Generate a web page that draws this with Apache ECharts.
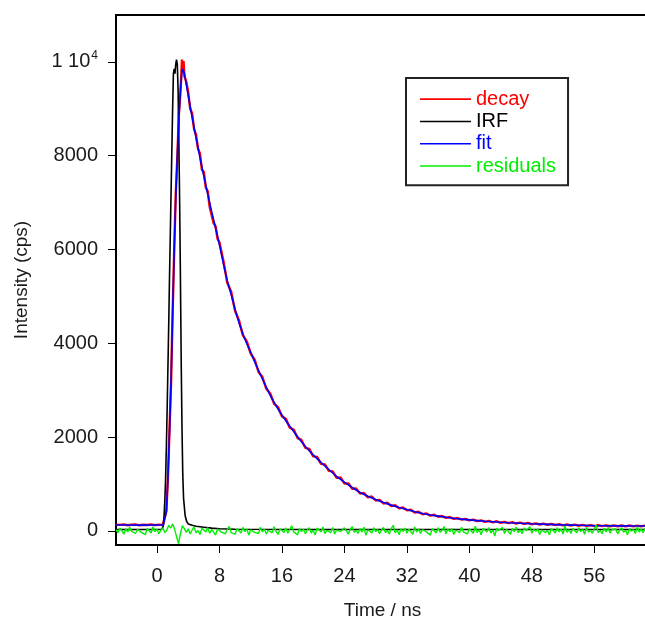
<!DOCTYPE html>
<html>
<head>
<meta charset="utf-8">
<script src="https://cdn.jsdelivr.net/npm/echarts@6/dist/echarts.min.js"></script>
<style>html,body{margin:0;padding:0;background:#fff;}#c{width:645px;height:620px;}</style>
</head>
<body>
<div id="c"></div>
<script>
// ---- data ----
const xTicks = [0, 8, 16, 24, 32, 40, 48, 56];
const yTicks = [0, 2000, 4000, 6000, 8000, 10000];
const seriesNames = ['decay', 'IRF', 'fit', 'residuals'];

// decay (measured), time in ns
const decayTimeHead = [-5.25,-4.75,-4.25,-3.75,-3.25,-2.75,-2.25,-1.75,-1.25,-0.75,-0.25,0.25,0.75,
  1.0,1.2,1.4,1.6,1.8,2.0,2.2,2.4,2.6,2.8,3.0,3.1,3.2,3.3,3.4,3.5,
  3.75,4.0,4.25,4.5,4.75,5.0,5.25,5.5,5.75,6.0,6.25,6.5,6.75,7.0,7.25,7.5,7.75,8.0];
const decayTailStart = 8.5, decayTailStep = 0.5;
const decayCounts = [135,128,140,122,131,138,120,133,127,141,124,132,129,
  160,430,1120,2160,3150,4650,5950,7180,7950,8880,9350,9700,10050,9780,10020,9700,
  9580,9350,9000,8900,8560,8450,8150,8050,7700,7650,7320,7240,6900,6880,6560,6500,6230,6150,
  5760,5290,5100,4690,4490,4170,4040,3780,3650,3390,
  3280,3030,2930,2710,2640,2440,2390,2200,2160,1980,
  1940,1770,1750,1590,1580,1430,1420,1280,1270,1130,
  1140,1010,1015,900,905,795,810,715,735,648,
  662,585,600,530,548,482,500,438,452,394,
  408,356,372,326,344,302,318,278,296,258,
  276,240,258,224,240,208,226,194,214,184,
  206,174,194,166,186,158,178,150,170,142,
  162,137,156,131,150,125,143,120,137,115,
  133,111,128,108,124,104,122,102,119,100,
  118,99,116,98,115,97,114,96,113,104];

// instrument response function
const irfTime = [-5.5,0,0.6,0.8,0.9,1.0,1.1,1.2,1.3,1.4,1.5,1.6,1.7,1.8,1.9,2.0,2.1,2.2,2.3,2.4,2.5,2.6,2.7,2.8,2.9,3.0,3.1,3.2,3.3,3.4,3.6,3.8,4.0,4.5,5,6,7,8,10,20,63];
const irfCounts = [30,30,35,100,300,650,1100,1800,2600,3500,4400,5400,6300,7200,8100,9000,9750,9850,9750,9950,10050,9950,9400,8300,7000,5400,3600,2200,1200,700,330,200,150,120,100,80,60,45,35,30,30];

// fitted curve
const fitTime = [-5.5,-4,-2,0,0.8,1.0,1.2,1.4,1.6,1.8,2.0,2.2,2.4,2.6,2.8,3.0,3.2,3.3,3.5,4.0,4.5,5.0,5.5,6.0,6.5,7.0,7.5,8.0,8.5,9,9.5,10,10.5,11,11.5,12,12.5,13,13.5,14,14.5,15,15.5,16,16.5,17,17.5,18,18.5,19,19.5,20,21,22,23,24,25,26,27,28,29,30,31,32,33,34,35,36,37,38,39,40,41,42,43,44,45,46,47,48,49,50,51,52,53,54,55,56,57,58,59,60,61,62,63];
const fitCounts = [125,125,124,125,126,145,400,1150,2100,3200,4600,6000,7100,8000,8800,9400,9800,9850,9760,9280,8820,8380,7960,7560,7180,6810,6460,6100,5700,5330,5040,4720,4440,4200,3990,3810,3610,3420,3240,3060,2890,2740,2600,2470,2350,2230,2120,2010,1900,1800,1710,1620,1460,1310,1160,1040,925,820,740,670,605,550,500,455,410,370,340,315,290,270,252,235,220,205,195,185,176,168,160,152,146,140,134,128,124,120,116,113,111,109,108,107,106,105,105];

// residuals, sampled every 0.25 ns from -5.25 ns
const resStart = -5.25, resStep = 0.25;
const residuals = [30,-40,60,10,-70,45,-20,80,-10,25,-55,35,70,-30,5,-80,50,15,-45,90,-15,40,-60,20,65,-35,10,
  120,60,150,40,-120,-270,-60,110,50,
  -30,45,-65,20,85,-40,10,-75,55,25,-20,70,-50,35,-5,-85,40,65,-25,15,
  -60,30,95,-35,5,-70,50,20,-45,75,-15,40,-90,25,60,-30,10,-55,80,-20,
  35,-65,15,55,-40,90,-10,-75,45,20,-35,65,-50,30,110,-25,5,-80,50,-15,
  40,-60,25,70,-45,15,-85,60,30,-20,85,-55,10,45,-35,75,-65,20,55,-10,
  -40,65,5,-70,35,90,-30,15,-55,50,-20,80,-95,25,40,-45,70,-15,30,-60,
  20,75,-35,10,-65,55,120,-40,25,-80,45,-10,60,-50,35,15,-70,85,-25,40,
  -55,30,65,-20,10,-90,50,25,-45,70,-30,15,95,-60,40,-15,55,-75,20,35,
  -40,80,-25,10,-65,45,20,-50,100,-35,30,-80,55,15,-20,70,-45,25,-110,60,
  10,-30,75,-55,40,20,-70,50,-15,85,-40,30,-60,65,5,-25,90,-50,35,-10,
  45,-75,20,60,-35,15,-85,55,30,-45,70,-20,40,-65,105,-30,25,-55,50,10,
  -40,65,-15,35,-70,80,-25,20,-50,45,120,-35,10,-60,55,-20,75,-45,30,-5,
  40,-65,25,70,-30,15,-80,50,-10,35,-55,90,-25,45,-40,60,20,-35];

// ---- build ----
const decayTime = decayTimeHead.slice();
while (decayTime.length < decayCounts.length) {
  decayTime.push(decayTailStart + decayTailStep * (decayTime.length - decayTimeHead.length));
}
const decayData = decayCounts.map((v, i) => [decayTime[i], v]);
const irfData = irfCounts.map((v, i) => [irfTime[i], v]);
const fitData = fitCounts.map((v, i) => [fitTime[i], v]);
const resData = residuals.map((v, i) => [resStart + resStep * i, v]);

const FONT = 'Liberation Sans, Arial, Helvetica, sans-serif';
const TXT = '#1a1a1a';
const colors = ['#ff0000', '#000000', '#0000ff', '#00f000'];

const chart = echarts.init(document.getElementById('c'), null, {renderer: 'canvas'});
chart.setOption({
  animation: false,
  backgroundColor: '#fff',
  grid: {left: 116, top: 15, right: -4, bottom: 75, show: true, borderColor: '#000', borderWidth: 2,
         containLabel: false, outerBoundsMode: 'none'},
  legend: {
    left: 406, top: 78, orient: 'vertical',
    padding: [10, 12, 8, 14],
    borderColor: '#222', borderWidth: 2,
    icon: 'rect',
    itemWidth: 51, itemHeight: 1.6, itemGap: 0,
    selectedMode: false,
    textStyle: {fontFamily: FONT, fontSize: 20, lineHeight: 22.3},
    data: seriesNames.map((n, i) => ({name: n, textStyle: {color: colors[i]}, itemStyle: {color: colors[i]}}))
  },
  xAxis: {
    type: 'value', min: -5.25, max: 63,
    name: 'Time / ns', nameLocation: 'middle', nameGap: 56,
    nameTextStyle: {fontFamily: FONT, fontSize: 19, color: TXT},
    axisLine: {show: true, onZero: false, lineStyle: {color: '#000', width: 2}},
    axisTick: {show: true, inside: false, length: 8, lineStyle: {color: '#000', width: 1}, customValues: xTicks},
    axisLabel: {fontFamily: FONT, fontSize: 20, color: TXT, margin: 21, customValues: xTicks},
    splitLine: {show: false}
  },
  yAxis: {
    type: 'value', min: -300, max: 11000,
    name: 'Intensity (cps)', nameLocation: 'middle', nameGap: 85,
    nameTextStyle: {fontFamily: FONT, fontSize: 19, color: TXT},
    axisLine: {show: true, onZero: false, lineStyle: {color: '#000', width: 2}},
    axisTick: {show: true, inside: false, length: 8, lineStyle: {color: '#000', width: 1}, customValues: yTicks},
    axisLabel: {
      fontFamily: FONT, fontSize: 20, color: TXT, margin: 18, customValues: yTicks,
      formatter: v => v === 10000 ? '{b|1 10}{s|4}' : '{b|' + v + '}',
      rich: {
        b: {fontFamily: FONT, fontSize: 20, color: TXT, lineHeight: 24},
        s: {fontFamily: FONT, fontSize: 12, color: TXT, lineHeight: 12, verticalAlign: 'top', padding: [0, 0, 0, 1]}
      }
    },
    splitLine: {show: false}
  },
  series: [
    {name: 'decay', type: 'line', data: decayData, symbol: 'none', lineStyle: {color: colors[0], width: 2.4}, itemStyle: {color: colors[0]}},
    {name: 'IRF', type: 'line', data: irfData, symbol: 'none', lineStyle: {color: colors[1], width: 1.6}, itemStyle: {color: colors[1]}},
    {name: 'fit', type: 'line', data: fitData, symbol: 'none', lineStyle: {color: colors[2], width: 1.6}, itemStyle: {color: colors[2]}},
    {name: 'residuals', type: 'line', data: resData, symbol: 'none', lineStyle: {color: colors[3], width: 1.4}, itemStyle: {color: colors[3]}}
  ]
});
</script>
</body>
</html>
